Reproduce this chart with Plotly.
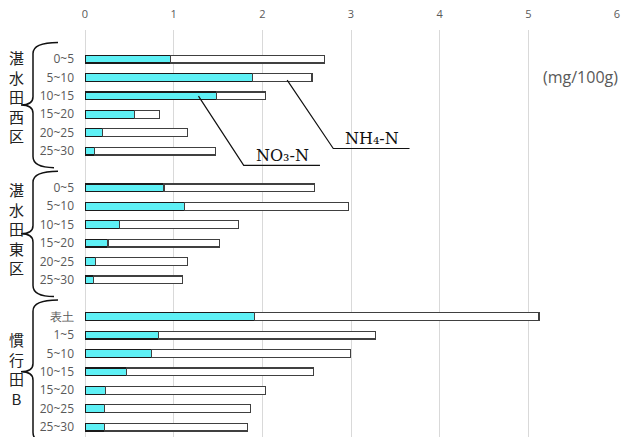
import plotly.graph_objects as go

# ---- data ----
depth_west = ["0~5", "5~10", "10~15", "15~20", "20~25", "25~30"]
no3_west = [0.96, 1.89, 1.48, 0.56, 0.20, 0.11]
nh4_west = [1.74, 0.67, 0.56, 0.28, 0.96, 1.36]

depth_east = ["0~5", "5~10", "10~15", "15~20", "20~25", "25~30"]
no3_east = [0.89, 1.12, 0.39, 0.26, 0.12, 0.10]
nh4_east = [1.70, 1.85, 1.34, 1.26, 1.04, 1.00]

depth_b = ["表土", "1~5", "5~10", "10~15", "15~20", "20~25", "25~30"]
no3_b = [1.91, 0.83, 0.75, 0.47, 0.23, 0.22, 0.22]
nh4_b = [3.21, 2.45, 2.24, 2.11, 1.81, 1.65, 1.61]

group_names = ["湛水田西区", "湛水田東区", "慣行田B"]
x_ticks = [0, 1, 2, 3, 4, 5, 6]

groups = [
    (depth_west, no3_west, nh4_west),
    (depth_east, no3_east, nh4_east),
    (depth_b, no3_b, nh4_b),
]

# build positions (one empty slot between groups)
ypos, ylab, no3_all, nh4_all, spans = [], [], [], [], []
idx = 0
for labels, a, b in groups:
    start = idx
    for lab, v1, v2 in zip(labels, a, b):
        ypos.append(idx)
        ylab.append(lab)
        no3_all.append(v1)
        nh4_all.append(v2)
        idx += 1
    spans.append((start, idx - 1))
    idx += 1

fig = go.Figure()
fig.add_trace(go.Bar(
    y=ypos, x=no3_all, orientation="h", name="NO3-N", width=0.42,
    marker=dict(color="#5EF0F5", line=dict(color="#1a1a1a", width=1.2)),
))
fig.add_trace(go.Bar(
    y=ypos, x=nh4_all, orientation="h", name="NH4-N", width=0.42,
    marker=dict(color="#FFFFFF", line=dict(color="#404040", width=1.2)),
))

shapes = []
annotations = []

# braces and vertical group labels
label_offsets = [2.05, 2.2, 2.85]
for (s, e), name, off in zip(spans, group_names, label_offsets):
    top = s - 0.9
    bot = e + 0.9
    mid = (s + e) / 2
    path = (
        f"M -27,{top} Q -52,{top} -52,{top+0.6} "
        f"L -52,{mid-0.45} Q -52,{mid} -64,{mid} "
        f"Q -52,{mid} -52,{mid+0.45} "
        f"L -52,{bot-0.6} Q -52,{bot} -31,{bot}"
    )
    shapes.append(dict(type="path", path=path, xref="paper", yref="y",
                       xsizemode="pixel", xanchor=0,
                       line=dict(color="#111111", width=1.5)))
    annotations.append(dict(
        x=0, xref="paper", xshift=-69, y=s + off, yref="y",
        text="<br>".join(list(name)), showarrow=False,
        font=dict(family="Noto Sans CJK JP", size=15, color="#222222"),
        align="center", xanchor="center", yanchor="middle",
    ))

# leader lines
shapes.append(dict(type="path", path="M 1.28,2.01 L 1.79,5.78 L 2.65,5.78",
                   xref="x", yref="y", line=dict(color="#111111", width=1.2)))
shapes.append(dict(type="path", path="M 2.28,1.14 L 2.80,4.86 L 3.66,4.86",
                   xref="x", yref="y", line=dict(color="#111111", width=1.2)))
annotations.append(dict(x=2.23, y=5.24, xref="x", yref="y", text="NO₃-N",
                        showarrow=False,
                        font=dict(family="DejaVu Serif", size=16, color="#111111")))
annotations.append(dict(x=3.24, y=4.29, xref="x", yref="y", text="NH₄-N",
                        showarrow=False,
                        font=dict(family="DejaVu Serif", size=16, color="#111111")))
annotations.append(dict(x=1.006, xref="paper", y=0.98, yref="y", text="(mg/100g)",
                        showarrow=False, xanchor="right",
                        font=dict(family="Open Sans", size=16, color="#595959")))

fig.update_layout(
    width=622, height=437,
    margin=dict(l=85, r=5, t=30, b=0, autoexpand=False),
    barmode="stack",
    showlegend=False,
    plot_bgcolor="white",
    paper_bgcolor="white",
    shapes=shapes,
    annotations=annotations,
    xaxis=dict(
        side="top", range=[0, 6], tickvals=x_ticks, automargin=False,
        showgrid=True, gridcolor="#D9D9D9", gridwidth=1,
        zeroline=True, zerolinecolor="#D9D9D9", zerolinewidth=1,
        showline=False, ticks="", ticklabelstandoff=9,
        tickfont=dict(family="Open Sans", size=11, color="#595959"),
    ),
    yaxis=dict(
        range=[20.54, -1.58], tickvals=ypos, ticktext=ylab, automargin=False,
        showgrid=False, zeroline=False, showline=False, ticks="",
        ticklabelstandoff=10,
        tickfont=dict(family="Open Sans", size=12, color="#595959"),
    ),
)

fig.write_html(
    "out.html",
    config={"displayModeBar": False},
    post_script="document.body.style.margin='0';document.body.style.overflow='hidden';",
)
